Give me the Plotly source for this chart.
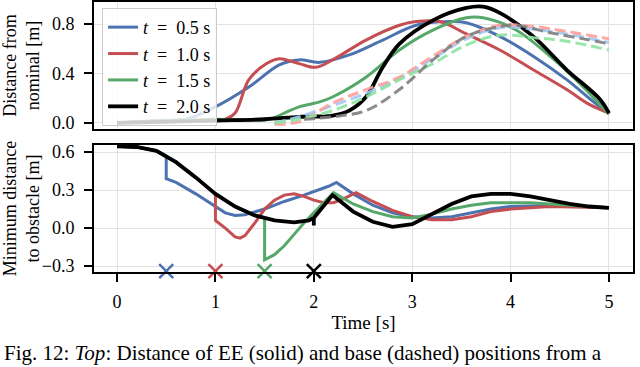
import plotly.graph_objects as go
from plotly.subplots import make_subplots

# top panel: distance of EE (solid) from nominal
t_ee_05 = [0.0, 0.4, 0.7, 1.0, 1.34, 1.65, 1.85, 2.06, 2.36, 2.7, 3.04, 3.38, 3.55, 3.89, 4.23, 4.57, 4.91, 5.0]
d_ee_05 = [0.0, 0.02, 0.03, 0.13, 0.29, 0.47, 0.51, 0.49, 0.55, 0.67, 0.79, 0.82, 0.81, 0.70, 0.54, 0.35, 0.13, 0.09]
t_ee_10 = [0.0, 0.5, 1.1, 1.2, 1.34, 1.52, 1.65, 1.85, 2.02, 2.19, 2.53, 2.87, 3.04, 3.28, 3.55, 3.89, 4.23, 4.57, 4.8, 5.0]
d_ee_10 = [0.0, 0.02, 0.03, 0.08, 0.35, 0.48, 0.52, 0.48, 0.45, 0.51, 0.67, 0.79, 0.82, 0.82, 0.72, 0.59, 0.43, 0.27, 0.15, 0.08]
t_ee_15 = [0.0, 0.5, 1.0, 1.55, 1.7, 1.85, 2.06, 2.19, 2.53, 2.87, 3.21, 3.55, 3.72, 4.06, 4.4, 4.74, 5.0]
d_ee_15 = [0.0, 0.02, 0.03, 0.03, 0.08, 0.13, 0.17, 0.21, 0.37, 0.59, 0.75, 0.85, 0.85, 0.75, 0.54, 0.29, 0.07]
t_ee_20 = [0.0, 0.5, 1.0, 1.5, 1.85, 2.19, 2.36, 2.53, 2.7, 2.87, 3.21, 3.55, 3.72, 3.89, 4.23, 4.57, 4.91, 5.0]
d_ee_20 = [0.0, 0.01, 0.02, 0.03, 0.05, 0.06, 0.10, 0.21, 0.45, 0.64, 0.83, 0.93, 0.94, 0.89, 0.70, 0.43, 0.19, 0.08]

# top panel: distance of base (dashed) from nominal
t_base = [1.6, 1.85, 2.19, 2.53, 2.87, 3.21, 3.55, 3.89, 4.23, 4.57, 5.0]
d_base_05 = [0.0, 0.05, 0.14, 0.24, 0.36, 0.52, 0.68, 0.77, 0.76, 0.72, 0.65]
d_base_10 = [-0.01, 0.01, 0.16, 0.27, 0.37, 0.54, 0.70, 0.79, 0.78, 0.74, 0.68]
d_base_15 = [0.0, 0.03, 0.10, 0.21, 0.35, 0.48, 0.63, 0.71, 0.69, 0.66, 0.59]
t_base_20 = [1.9, 2.19, 2.53, 2.87, 3.21, 3.55, 3.89, 4.06, 4.4, 4.74, 5.0]
d_base_20 = [0.03, 0.05, 0.10, 0.27, 0.51, 0.70, 0.78, 0.79, 0.73, 0.68, 0.64]

# bottom panel: minimum distance to obstacle
t_ob_05 = [0.0, 0.2, 0.4, 0.5, 0.5, 0.6, 0.8, 1.0, 1.1, 1.2, 1.3, 1.5, 1.7, 1.9, 2.05, 2.15, 2.23,
           2.4, 2.6, 2.8, 3.0, 3.2, 3.4, 3.6, 3.8, 4.0, 4.5, 5.0]
m_ob_05 = [0.645, 0.64, 0.61, 0.57, 0.39, 0.36, 0.27, 0.17, 0.12, 0.10, 0.105, 0.15, 0.21, 0.26, 0.30, 0.33, 0.36,
           0.27, 0.18, 0.12, 0.09, 0.08, 0.09, 0.12, 0.15, 0.17, 0.18, 0.16]
t_ob_10 = [0.0, 0.2, 0.4, 0.6, 0.8, 1.0, 1.0, 1.1, 1.2, 1.25, 1.3, 1.4, 1.5, 1.6, 1.7, 1.8, 1.9, 2.0, 2.1,
           2.2, 2.3, 2.43, 2.6, 2.8, 3.0, 3.2, 3.4, 3.6, 3.8, 4.0, 4.4, 5.0]
m_ob_10 = [0.645, 0.64, 0.61, 0.52, 0.40, 0.27, 0.06, 0.0, -0.07, -0.08, -0.06, 0.04, 0.15, 0.22, 0.26, 0.27, 0.25, 0.22, 0.20,
           0.20, 0.23, 0.28, 0.21, 0.14, 0.09, 0.065, 0.065, 0.09, 0.13, 0.15, 0.17, 0.16]
t_ob_15 = [0.0, 0.2, 0.4, 0.6, 0.8, 1.0, 1.2, 1.4, 1.5, 1.5, 1.6, 1.7, 1.8, 1.9, 2.0, 2.1, 2.2,
           2.4, 2.6, 2.8, 3.0, 3.2, 3.4, 3.6, 3.8, 4.2, 4.6, 5.0]
m_ob_15 = [0.645, 0.64, 0.61, 0.52, 0.40, 0.27, 0.17, 0.10, 0.08, -0.25, -0.21, -0.14, -0.05, 0.04, 0.12, 0.20, 0.28,
           0.19, 0.13, 0.09, 0.08, 0.11, 0.15, 0.18, 0.20, 0.20, 0.18, 0.16]
t_ob_20 = [0.0, 0.2, 0.4, 0.6, 0.8, 1.0, 1.2, 1.4, 1.6, 1.8, 1.95, 2.0, 2.0, 2.0, 2.19,
           2.4, 2.6, 2.8, 3.0, 3.2, 3.4, 3.6, 3.8, 4.0, 4.2, 4.4, 4.6, 4.8, 5.0]
m_ob_20 = [0.645, 0.64, 0.61, 0.52, 0.40, 0.27, 0.17, 0.10, 0.06, 0.045, 0.06, 0.08, 0.02, 0.08, 0.26,
           0.13, 0.05, 0.01, 0.03, 0.11, 0.19, 0.25, 0.27, 0.27, 0.25, 0.22, 0.19, 0.17, 0.16]

switch_times = [0.5, 1.0, 1.5, 2.0]
labels = ["0.5", "1.0", "1.5", "2.0"]

colors = ["#4c72b0", "#c44e52", "#55a868", "#000000"]
pastel = ["#a1c9f4", "#ff9f9b", "#8de5a1", "#7f7f7f"]
FONT = "Liberation Serif"

fig = make_subplots(rows=2, cols=1, vertical_spacing=0.06)

base_t = [t_base, t_base, t_base, t_base_20]
base_d = [d_base_05, d_base_10, d_base_15, d_base_20]
ee_t = [t_ee_05, t_ee_10, t_ee_15, t_ee_20]
ee_d = [d_ee_05, d_ee_10, d_ee_15, d_ee_20]
ob_t = [t_ob_05, t_ob_10, t_ob_15, t_ob_20]
ob_m = [m_ob_05, m_ob_10, m_ob_15, m_ob_20]

for i in range(4):
    fig.add_trace(go.Scatter(x=ee_t[i], y=ee_d[i], mode="lines", line_shape="spline",
                             name="<i>t</i>&nbsp;&nbsp;=&nbsp;&nbsp;" + labels[i] + "&nbsp;s",
                             line=dict(color=colors[i], width=3.8 if i == 3 else 3)), row=1, col=1)
for i in range(4):
    fig.add_trace(go.Scatter(x=base_t[i], y=base_d[i], mode="lines", line_shape="spline",
                             showlegend=False, opacity=0.9,
                             line=dict(color=pastel[i], width=3, dash="11px,5px")), row=1, col=1)
for i in range(4):
    fig.add_trace(go.Scatter(x=ob_t[i], y=ob_m[i], mode="lines", showlegend=False,
                             line=dict(color=colors[i], width=3.8 if i == 3 else 3)), row=2, col=1)
for i in range(4):
    fig.add_trace(go.Scatter(x=[switch_times[i]], y=[-0.34], mode="markers", showlegend=False,
                             cliponaxis=False,
                             marker=dict(symbol="x-thin", size=14, line=dict(color=colors[i], width=2.5))),
                  row=2, col=1)

axis_style = dict(showline=True, linecolor="black", linewidth=2, mirror=True,
                  gridcolor="#e3e3e3", zeroline=False, automargin=False,
                  tickfont=dict(family=FONT, size=18, color="black"))

fig.update_xaxes(range=[-0.234, 5.244], tickvals=[0, 1, 2, 3, 4, 5], **axis_style)
fig.update_xaxes(showticklabels=False, row=1, col=1)
fig.update_xaxes(ticks="outside", ticklen=8, tickwidth=2, tickcolor="black", ticklabelstandoff=4,
                 title=dict(text="Time [s]", font=dict(family=FONT, size=19, color="black"), standoff=5),
                 row=2, col=1)
fig.update_yaxes(ticks="outside", ticklen=8, tickwidth=2, tickcolor="black", ticklabelstandoff=6,
                 **axis_style)
fig.update_yaxes(range=[-0.048, 0.978], tickvals=[0, 0.4, 0.8], ticktext=["0.0", "0.4", "0.8"],
                 title=dict(text="Distance from<br>nominal [m]", font=dict(family=FONT, size=18), standoff=10),
                 row=1, col=1)
fig.update_yaxes(range=[-0.347, 0.655], tickvals=[-0.3, 0, 0.3, 0.6],
                 ticktext=["\u22120.3", "0.0", "0.3", "0.6"],
                 title=dict(text="Minimum distance<br>to obstacle [m]", font=dict(family=FONT, size=18), standoff=10),
                 row=2, col=1)

fig.update_layout(
    width=640, height=367,
    margin=dict(l=94, r=7, t=2, b=95),
    plot_bgcolor="white", paper_bgcolor="white",
    font=dict(family=FONT, size=18, color="black"),
    yaxis=dict(domain=[0.53, 1.0]),
    yaxis2=dict(domain=[0.0, 0.47]),
    legend=dict(x=0.015, y=0.978, xanchor="left", yanchor="top",
                bgcolor="rgba(255,255,255,0.8)", bordercolor="#cccccc", borderwidth=1,
                font=dict(family=FONT, size=18), tracegroupgap=0, itemwidth=30),
    showlegend=True,
)

fig.add_annotation(text="Fig. 12: <i>Top</i>: Distance of EE (solid) and base (dashed) positions from a",
                   xref="paper", yref="paper", x=-0.171, y=-0.352, xanchor="left", yanchor="bottom",
                   showarrow=False, font=dict(family=FONT, size=21))

fig.write_html("out.html", config={"displayModeBar": False},
               post_script="document.body.style.margin='0px';")
